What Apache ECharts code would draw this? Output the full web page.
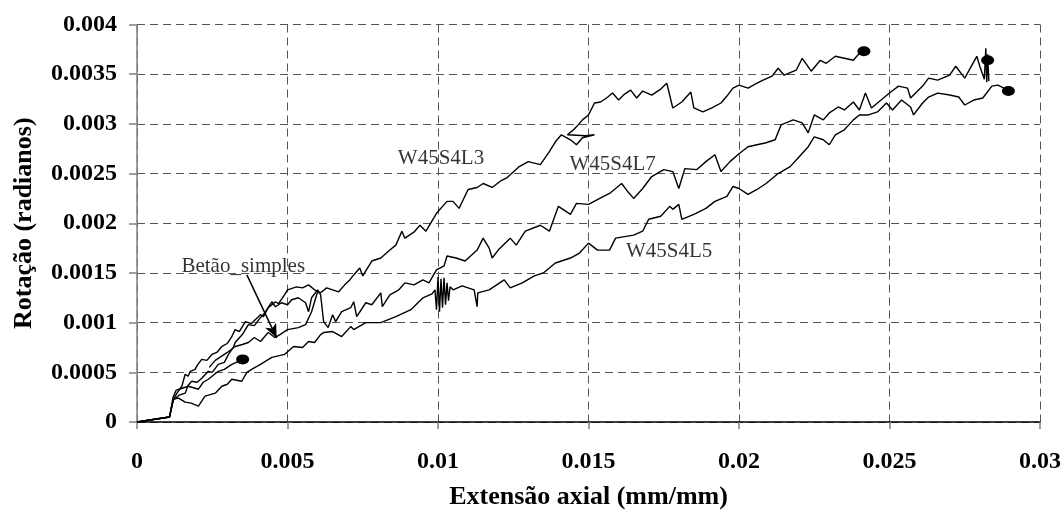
<!DOCTYPE html>
<html><head><meta charset="utf-8">
<script src="https://cdn.jsdelivr.net/npm/echarts@6/dist/echarts.min.js"></script>
<style>html,body{margin:0;padding:0;background:#fff}#c{width:1064px;height:515px}</style>
</head><body><div id="c"></div>
<script>
const xTickLabels = ['0','0.005','0.01','0.015','0.02','0.025','0.03'];
const yTickLabels = ['0','0.0005','0.001','0.0015','0.002','0.0025','0.003','0.0035','0.004'];

const l3 = [[0,0],[0.00108,0.00005],[0.00121,0.00023],[0.00135,0.0003],[0.00149,0.00036],[0.0016,0.00048],[0.0017,0.00046],[0.00177,0.00051],[0.00193,0.00053],[0.002,0.00057],[0.00215,0.00063],[0.00232,0.00062],[0.00249,0.00068],[0.00265,0.0007],[0.0027,0.00068],[0.00282,0.00076],[0.003,0.00079],[0.00315,0.00086],[0.00326,0.00093],[0.0034,0.00091],[0.0036,0.00101],[0.0038,0.00099],[0.0041,0.00108],[0.0042,0.00106],[0.00436,0.00115],[0.0046,0.00121],[0.0047,0.00119],[0.0049,0.00128],[0.005,0.00133],[0.0053,0.00136],[0.0055,0.00135],[0.0057,0.00138],[0.0059,0.00133],[0.0061,0.0013],[0.0063,0.00135],[0.0065,0.00133],[0.0067,0.00131],[0.0069,0.00138],[0.00707,0.00143],[0.0072,0.00148],[0.0074,0.00155],[0.0075,0.00147],[0.0078,0.00162],[0.0081,0.00165],[0.0084,0.00173],[0.0086,0.00178],[0.0088,0.00192],[0.0089,0.00185],[0.0092,0.00191],[0.0094,0.00198],[0.0096,0.00192],[0.00995,0.0021],[0.0103,0.00222],[0.0105,0.00222],[0.0107,0.00215],[0.011,0.00234],[0.0113,0.00236],[0.0115,0.0024],[0.0118,0.00236],[0.0121,0.00243],[0.0123,0.00246],[0.0127,0.00257],[0.013,0.00262],[0.0134,0.00259],[0.0137,0.00272],[0.0139,0.00282],[0.0141,0.00289],[0.0144,0.00284],[0.0146,0.00279],[0.0148,0.00286],[0.0152,0.00289],[0.0149,0.00288],[0.0143,0.00289],[0.0145,0.00294],[0.0146,0.00297],[0.0148,0.00304],[0.015,0.00309],[0.0152,0.00321],[0.0154,0.00322],[0.0156,0.00326],[0.0158,0.00331],[0.016,0.00324],[0.0162,0.0033],[0.0164,0.00334],[0.0166,0.00326],[0.0168,0.00333],[0.0171,0.00329],[0.0174,0.00335],[0.0176,0.00341],[0.0178,0.00316],[0.0181,0.00322],[0.0184,0.00332],[0.0185,0.00316],[0.0188,0.00312],[0.0191,0.00316],[0.0194,0.00321],[0.0196,0.00328],[0.0198,0.00336],[0.02,0.00339],[0.0203,0.00336],[0.0206,0.00341],[0.0208,0.00344],[0.0211,0.00348],[0.0213,0.00356],[0.0215,0.00349],[0.0219,0.00354],[0.0221,0.00366],[0.0224,0.00353],[0.0227,0.00364],[0.0229,0.00361],[0.0232,0.00368],[0.0235,0.00366],[0.0238,0.00364],[0.024,0.00371],[0.02415,0.00373]];

const l7 = [[0,0],[0.00108,0.00005],[0.0012,0.00022],[0.0014,0.00027],[0.0016,0.00029],[0.0017,0.00037],[0.00182,0.00041],[0.002,0.0004],[0.00215,0.00044],[0.00237,0.00051],[0.0025,0.0005],[0.0027,0.00058],[0.0029,0.0006],[0.00304,0.00068],[0.0032,0.00075],[0.00326,0.0008],[0.0035,0.00088],[0.0037,0.00098],[0.0039,0.00097],[0.0041,0.00105],[0.00425,0.0011],[0.00448,0.00121],[0.0046,0.00116],[0.0048,0.0012],[0.005,0.00118],[0.00514,0.00123],[0.00536,0.00125],[0.0056,0.0012],[0.0057,0.00111],[0.0058,0.00125],[0.006,0.00133],[0.0061,0.00128],[0.0062,0.00101],[0.00635,0.00095],[0.0065,0.00108],[0.0066,0.00101],[0.0068,0.00111],[0.0071,0.00115],[0.0072,0.00121],[0.0073,0.00106],[0.0076,0.0012],[0.0078,0.00118],[0.0081,0.0013],[0.00815,0.00116],[0.0084,0.00128],[0.0087,0.00133],[0.0089,0.0014],[0.0092,0.00138],[0.0095,0.00143],[0.0097,0.0014],[0.00995,0.00153],[0.0102,0.00157],[0.0103,0.00167],[0.0106,0.00165],[0.0109,0.00162],[0.0113,0.00173],[0.0115,0.00185],[0.0117,0.00175],[0.0118,0.00165],[0.012,0.00173],[0.0124,0.00185],[0.0126,0.00178],[0.0129,0.00192],[0.0134,0.00198],[0.0137,0.00192],[0.014,0.00217],[0.0144,0.00209],[0.0146,0.0022],[0.015,0.00219],[0.0155,0.00227],[0.0157,0.0023],[0.0159,0.00235],[0.0161,0.0024],[0.0163,0.00232],[0.0165,0.00225],[0.0168,0.00235],[0.0171,0.00247],[0.0175,0.00254],[0.0178,0.00252],[0.018,0.00235],[0.0182,0.00255],[0.0186,0.00254],[0.0189,0.00262],[0.0192,0.00269],[0.0194,0.00252],[0.0197,0.00262],[0.02,0.0027],[0.0203,0.00277],[0.0206,0.00279],[0.0209,0.00281],[0.0212,0.00284],[0.0214,0.00299],[0.0218,0.00304],[0.0221,0.00301],[0.0223,0.00291],[0.0225,0.00309],[0.0228,0.00304],[0.023,0.00311],[0.0233,0.00317],[0.0235,0.00314],[0.0238,0.00322],[0.024,0.00314],[0.0242,0.00331],[0.0244,0.00316],[0.0248,0.00326],[0.025,0.00331],[0.0253,0.00338],[0.0256,0.00336],[0.0257,0.00326],[0.0261,0.00338],[0.0263,0.00346],[0.0266,0.00344],[0.027,0.00349],[0.0272,0.00358],[0.0275,0.00346],[0.0279,0.00368],[0.028,0.00358],[0.02815,0.00345],[0.0282,0.00376],[0.02823,0.00342],[0.02826,0.0037],[0.0283,0.00343],[0.02826,0.00364]];

const l5 = [[0,0],[0.00108,0.00005],[0.00121,0.00023],[0.00138,0.00024],[0.0016,0.0002],[0.0018,0.00019],[0.00204,0.00016],[0.00226,0.00026],[0.0026,0.00029],[0.00282,0.00036],[0.003,0.00038],[0.00315,0.00043],[0.00348,0.00041],[0.00365,0.0005],[0.00381,0.00053],[0.0041,0.00058],[0.00448,0.00065],[0.0049,0.00068],[0.0052,0.00076],[0.0055,0.00075],[0.0057,0.00081],[0.0059,0.0008],[0.0061,0.00088],[0.0062,0.0009],[0.0065,0.00091],[0.0068,0.00086],[0.0071,0.00096],[0.0072,0.00093],[0.0076,0.001],[0.0081,0.001],[0.0086,0.00106],[0.0091,0.00113],[0.0095,0.00125],[0.0098,0.00129],[0.0099,0.00133],[0.00995,0.00113],[0.01,0.00146],[0.01005,0.00111],[0.0101,0.00144],[0.01015,0.00115],[0.0102,0.00145],[0.01025,0.00118],[0.0103,0.0014],[0.01035,0.00122],[0.0104,0.00136],[0.0105,0.00133],[0.0108,0.00137],[0.0112,0.00133],[0.0113,0.00116],[0.01132,0.0013],[0.0117,0.00133],[0.0122,0.00143],[0.0124,0.00135],[0.0128,0.0014],[0.0132,0.00147],[0.0135,0.0015],[0.0139,0.0016],[0.0144,0.00165],[0.0147,0.0017],[0.015,0.0018],[0.0153,0.00173],[0.0157,0.00173],[0.0159,0.00185],[0.0165,0.00188],[0.0168,0.00192],[0.017,0.00204],[0.0174,0.00207],[0.0177,0.00217],[0.0178,0.00214],[0.018,0.00219],[0.0181,0.00204],[0.0185,0.00209],[0.0189,0.00215],[0.0192,0.00222],[0.0196,0.00227],[0.0198,0.00237],[0.02,0.00235],[0.0203,0.00229],[0.0206,0.00234],[0.0209,0.0024],[0.0213,0.0025],[0.0217,0.00257],[0.022,0.00267],[0.0223,0.00277],[0.0225,0.00287],[0.0228,0.00284],[0.023,0.00279],[0.0232,0.00289],[0.0235,0.00294],[0.0238,0.00304],[0.024,0.00309],[0.0243,0.00309],[0.0246,0.00312],[0.0249,0.00321],[0.0251,0.00314],[0.0254,0.00324],[0.0257,0.00317],[0.0258,0.00309],[0.0261,0.00321],[0.0263,0.00327],[0.0266,0.00331],[0.027,0.00329],[0.0273,0.00327],[0.0275,0.00319],[0.0278,0.00324],[0.0281,0.00326],[0.0284,0.00338],[0.0286,0.00339],[0.0288,0.00336],[0.02895,0.00333]];

const betaoA = [[0,0],[0.00108,0.00005],[0.0012,0.00025],[0.0013,0.00032],[0.0015,0.00034],[0.00171,0.00036],[0.00204,0.00033],[0.0022,0.0004],[0.00237,0.00043],[0.0027,0.00051],[0.0029,0.00053],[0.00315,0.00058],[0.0033,0.0006],[0.00351,0.00063]];
const betaoB = [[0.0024,0.00055],[0.0026,0.00062],[0.0028,0.00066],[0.003,0.0007],[0.00326,0.00076],[0.0035,0.00078],[0.0037,0.0008],[0.0039,0.00085],[0.0041,0.00081],[0.00436,0.0009],[0.00458,0.00085],[0.00475,0.00088],[0.005,0.00093],[0.00536,0.00095],[0.0056,0.00098],[0.0058,0.00111],[0.006,0.00131]];

const endPoints = [[0.00351,0.00063],[0.02415,0.00373],[0.02826,0.00364],[0.02895,0.00333]];
const labelNames = ['W45S4L3','W45S4L7','W45S4L5','Betão_simples'];
const labelPos = [[0.0101,0.00265],[0.0158,0.00259],[0.01768,0.00172],[0.00353,0.00156]];
const arrowFrom = [0.00365,0.00148];
const arrowTo = [0.00464,0.000846];

const font = 'Liberation Serif';
const lineSeries = (name, data, extra) => Object.assign({
  name, type: 'line', data, showSymbol: false, symbol: 'none',
  lineStyle: {color: '#000', width: 1.4}, silent: true
}, extra || {});

const chart = echarts.init(document.getElementById('c'), null, {renderer: 'canvas'});
chart.setOption({
  animation: false,
  backgroundColor: '#fff',
  grid: {left: 137, right: 22, top: 24.5, bottom: 92.5},
  xAxis: {
    type: 'value', min: 0, max: 0.03, interval: 0.005,
    axisLine: {show: true, onZero: false, lineStyle: {color: '#000', width: 1.5}},
    axisTick: {show: true, length: 7, lineStyle: {color: '#808080', width: 1.5}},
    axisLabel: {margin: 28, fontFamily: font, fontWeight: 'bold', fontSize: 24, color: '#000',
      formatter: v => xTickLabels[Math.round(v / 0.005)]},
    splitLine: {show: true, lineStyle: {color: '#555', width: 1, type: [8, 5]}},
    name: 'Extensão axial (mm/mm)', nameLocation: 'middle', nameGap: 62,
    nameTextStyle: {fontFamily: font, fontWeight: 'bold', fontSize: 26, color: '#000'}
  },
  yAxis: {
    type: 'value', min: 0, max: 0.004, interval: 0.0005,
    axisLine: {show: true, onZero: false, lineStyle: {color: '#808080', width: 1.5}},
    axisTick: {show: true, length: 8, lineStyle: {color: '#808080', width: 1.5}},
    axisLabel: {margin: 20, fontFamily: font, fontWeight: 'bold', fontSize: 24, color: '#000',
      formatter: v => yTickLabels[Math.round(v / 0.0005)]},
    splitLine: {show: true, lineStyle: {color: '#555', width: 1, type: [8, 5]}},
    name: 'Rotação (radianos)', nameLocation: 'middle', nameGap: 100,
    nameTextStyle: {fontFamily: font, fontWeight: 'bold', fontSize: 26, color: '#000'}
  },
  series: [
    lineSeries('W45S4L3', l3),
    lineSeries('W45S4L7', l7),
    lineSeries('W45S4L5', l5),
    lineSeries('Betão_simples', betaoA, {
      markLine: {silent: true, symbol: ['none', 'arrow'], symbolSize: [9, 14],
        lineStyle: {color: '#000', width: 1.5, type: 'solid'}, label: {show: false},
        data: [[{coord: arrowFrom}, {coord: arrowTo}]]}
    }),
    lineSeries('Betão_simples_b', betaoB),
    {type: 'scatter', data: endPoints, symbol: 'circle', symbolSize: [13, 10],
      itemStyle: {color: '#000', opacity: 1}, silent: true, z: 5},
    {type: 'scatter', silent: true, symbolSize: 0,
      data: labelPos.map((p, i) => [p[0], p[1], labelNames[i]]),
      label: {show: true, position: 'inside', formatter: p => p.data[2],
        fontFamily: font, fontSize: 21, color: '#000'}}
  ]
});
</script></body></html>
